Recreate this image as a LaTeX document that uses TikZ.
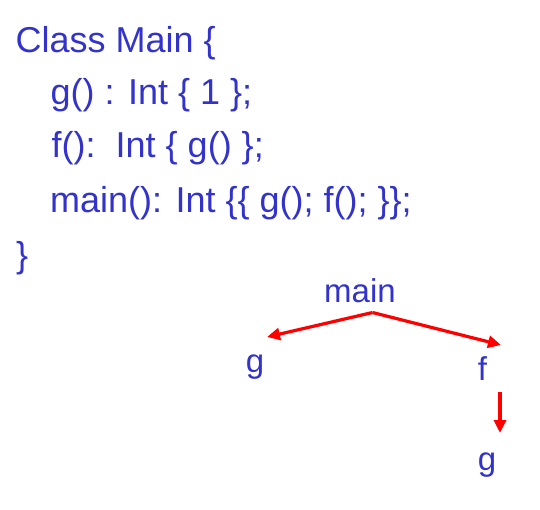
\documentclass[tikz,border=0pt]{standalone}
\usepackage{fontspec}
\setmainfont{Liberation Sans}
\usetikzlibrary{arrows.meta}
\definecolor{codeblue}{RGB}{51,51,204}
\definecolor{callred}{RGB}{255,0,0}
\tikzset{
  codeline/.style={anchor=base west, inner sep=0pt, text=codeblue, font=\fontsize{36}{36}\selectfont},
  treelabel/.style={anchor=base, inner sep=0pt, text=codeblue, font=\fontsize{33}{33}\selectfont},
  callarrow/.style={draw=callred, line width=3.2pt, -{Triangle[length=13pt,width=12pt]}}
}
\begin{document}
\begin{tikzpicture}[x=1pt,y=-1pt]
\useasboundingbox (0,0) rectangle (540,509);
\node[codeline] (l1) at (15.5,52) {Class Main \{};
\node[codeline] (l2) at (50.5,104.3) {g() : Int \{ 1 \};};
\node[codeline] (l3) at (51.5,157.7) {f():\ \ Int \{ g() \};};
\node[codeline] (l4) at (50,212.3) {main(): Int \{\{ g(); f(); \}\};};
\node[codeline] (l5) at (16,267) {\}};
\node[treelabel] (main) at (360,302) {main};
\node[treelabel] (g1) at (255,372) {g};
\node[treelabel] (f) at (482.5,380) {f};
\node[treelabel] (g2) at (487,470) {g};
\coordinate (apex) at (372.5,312.5);
\coordinate (g1in) at (267,337);
\coordinate (fin) at (501,345);
\coordinate (fout) at (500,392);
\coordinate (g2in) at (500,433);
\draw[callarrow] (apex) -- (g1in);
\draw[callarrow] (apex) -- (fin);
\draw[callarrow] (fout) -- (g2in);
\end{tikzpicture}
\end{document}
